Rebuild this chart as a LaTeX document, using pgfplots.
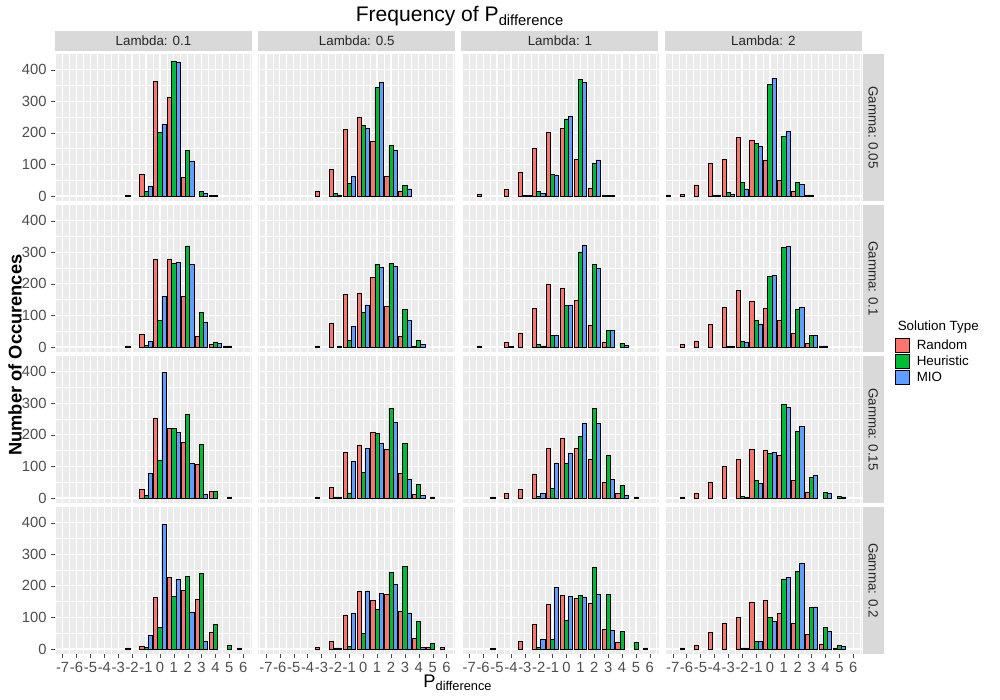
\documentclass[border=0pt]{standalone}
\usepackage{pgfplots}
\pgfplotsset{compat=1.18}
\usepackage{pgfplotstable}
\usepackage{fontspec}
\setmainfont{Liberation Sans}
\definecolor{cR}{HTML}{F8766D}
\definecolor{cG}{HTML}{00BA38}
\definecolor{cB}{HTML}{619CFF}
\definecolor{pbg}{HTML}{EBEBEB}
\definecolor{strip}{HTML}{D9D9D9}
\definecolor{txt}{HTML}{4D4D4D}
\pgfplotstableread{
x r g b
-2 3 nan nan
-1 67 14 30
0 362 202 227
1 312 428 425
2 60 145 111
3 nan 15 8
4 2 2 nan
}\Ta
\pgfplotstableread{
x r g b
-3 16 nan nan
-2 84 8 3
-1 210 40 61
0 249 223 215
1 174 343 360
2 61 159 145
3 16 32 22
}\Tb
\pgfplotstableread{
x r g b
-6 4 nan nan
-4 20 nan nan
-3 75 2 2
-2 151 14 7
-1 201 69 64
0 213 244 252
1 116 370 359
2 24 103 114
3 2 2 2
}\Tc
\pgfplotstableread{
x r g b
-7 3 nan nan
-6 6 nan nan
-5 35 nan nan
-4 103 3 3
-3 117 10 4
-2 186 43 22
-1 176 166 158
0 114 353 373
1 49 188 205
2 16 44 36
3 3 3 nan
}\Td
\pgfplotstableread{
x r g b
-2 3 nan nan
-1 41 5 18
0 277 84 159
1 279 265 268
2 159 320 262
3 34 109 78
4 9 16 12
5 3 3 nan
}\Te
\pgfplotstableread{
x r g b
-3 3 nan nan
-2 75 nan 3
-1 167 21 66
0 170 110 133
1 220 261 251
2 128 264 256
3 33 120 84
4 3 20 9
}\Tf
\pgfplotstableread{
x r g b
-6 3 nan nan
-4 15 2 nan
-3 43 nan nan
-2 123 7 3
-1 200 37 37
0 185 132 133
1 147 301 322
2 68 261 249
3 16 52 52
4 nan 12 4
}\Tg
\pgfplotstableread{
x r g b
-6 9 nan nan
-5 19 nan nan
-4 72 nan nan
-3 126 3 3
-2 179 19 15
-1 143 83 73
0 122 224 227
1 83 316 319
2 42 119 124
3 10 37 37
4 3 3 nan
}\Th
\pgfplotstableread{
x r g b
-1 27 8 77
0 252 119 398
1 220 220 208
2 176 265 109
3 106 169 11
4 20 21 nan
5 nan 3 nan
}\Ti
\pgfplotstableread{
x r g b
-3 3 nan nan
-2 34 3 3
-1 143 16 115
0 167 81 156
1 207 204 172
2 155 284 240
3 78 172 59
4 11 42 8
5 nan 3 nan
}\Tj
\pgfplotstableread{
x r g b
-5 3 nan nan
-4 14 nan nan
-3 26 nan nan
-2 76 6 15
-1 156 30 109
0 189 110 140
1 158 195 236
2 122 284 237
3 48 134 60
4 13 40 8
5 nan 3 nan
}\Tk
\pgfplotstableread{
x r g b
-6 3 nan nan
-5 14 nan nan
-4 48 nan nan
-3 101 nan nan
-2 122 5 3
-1 153 55 47
0 152 141 143
1 134 297 288
2 55 212 228
3 19 66 72
4 nan 17 14
5 nan 5 3
}\Tl
\pgfplotstableread{
x r g b
-2 3 nan nan
-1 8 5 43
0 164 68 396
1 227 167 220
2 185 229 115
3 158 239 23
4 52 77 nan
5 nan 11 nan
6 3 nan nan
}\Tm
\pgfplotstableread{
x r g b
-3 5 nan nan
-2 23 3 3
-1 108 9 112
0 181 49 184
1 154 126 177
2 174 242 204
3 119 262 113
4 32 88 6
5 4 18 nan
6 4 nan nan
}\Tn
\pgfplotstableread{
x r g b
-5 2 nan nan
-3 23 nan nan
-2 78 5 29
-1 140 29 194
0 171 90 167
1 161 169 165
2 143 258 172
3 63 174 59
4 22 55 nan
5 nan 22 nan
6 3 nan nan
}\To
\pgfplotstableread{
x r g b
-6 3 nan nan
-5 10 nan nan
-4 52 nan nan
-3 82 nan nan
-2 100 3 3
-1 149 23 23
0 155 101 88
1 112 222 226
2 82 245 271
3 47 131 133
4 13 67 56
5 3 10 9
}\Tp
\pgfplotsset{fac/.style={
  width=4.925cm, height=3.675cm, scale only axis, anchor=north west,
  ybar, bar width=0.3,
  xmin=-7.55, xmax=6.63, ymin=-16, ymax=450,
  axis background/.style={fill=pbg},
  axis line style={draw=none},
  grid=both,
  major grid style={white, line width=0.9pt},
  minor grid style={white, line width=0.45pt},
  xtick={-7,...,6}, minor xtick={-7.5,-6.5,...,6.5},
  ytick={0,100,200,300,400}, minor ytick={50,150,250,350},
  xticklabels={}, yticklabels={},
  tick style={draw=none},
  tick align=outside, major tick length=2.5pt, minor tick length=0pt,
  tick pos=left,
  ticklabel style={font=\fontsize{10.5}{12}\selectfont, text=txt},
  xticklabel style={inner xsep=0pt},
}}
\pgfplotsset{bot/.style={xticklabels={-7,-6,-5,-4,-3,-2,-1,0,1,2,3,4,5,6}, xtick style={draw=gray!60!black}},
 lft/.style={yticklabels={0,100,200,300,400}, ytick style={draw=gray!60!black}}}
\newcommand{\panel}[4]{%
\begin{axis}[fac,at={(#1,#2)},#4]
\addplot[fill=cR,draw=black,line width=0.5pt,bar shift=-0.3] table[x=x,y=r]{#3};
\addplot[fill=cG,draw=black,line width=0.5pt,bar shift=0] table[x=x,y=g]{#3};
\addplot[fill=cB,draw=black,line width=0.5pt,bar shift=0.3] table[x=x,y=b]{#3};
\end{axis}}
\newcommand{\tstrip}[2]{\fill[strip] ({#1*0.025},{(700-31)*0.025}) rectangle ({(#1+197)*0.025},{(700-51)*0.025});
\node[font=\fontsize{9.5}{11}\selectfont, text=black!85] at ({(#1+98.5)*0.025},{(700-41)*0.025}) {#2};}
\newcommand{\rstrip}[2]{\fill[strip] ({863*0.025},{(700-#1)*0.025}) rectangle ({884*0.025},{(700-#1-147)*0.025});
\node[rotate=-90,font=\fontsize{9.5}{11}\selectfont, text=black!85] at ({873.5*0.025},{(700-#1-73.5)*0.025}) {#2};}
\begin{document}
\begin{tikzpicture}
\useasboundingbox (0,0) rectangle (25,17.5);
\panel{1.375cm}{16.15cm}{\Ta}{lft}
\panel{6.4575cm}{16.15cm}{\Tb}{}
\panel{11.54cm}{16.15cm}{\Tc}{}
\panel{16.625cm}{16.15cm}{\Td}{}
\panel{1.375cm}{12.375cm}{\Te}{lft}
\panel{6.4575cm}{12.375cm}{\Tf}{}
\panel{11.54cm}{12.375cm}{\Tg}{}
\panel{16.625cm}{12.375cm}{\Th}{}
\panel{1.375cm}{8.6cm}{\Ti}{lft}
\panel{6.4575cm}{8.6cm}{\Tj}{}
\panel{11.54cm}{8.6cm}{\Tk}{}
\panel{16.625cm}{8.6cm}{\Tl}{}
\panel{1.375cm}{4.825cm}{\Tm}{lft,bot}
\panel{6.4575cm}{4.825cm}{\Tn}{bot}
\panel{11.54cm}{4.825cm}{\To}{bot}
\panel{16.625cm}{4.825cm}{\Tp}{bot}
\tstrip{55}{Lambda: 0.1}
\tstrip{258.3}{Lambda: 0.5}
\tstrip{461.6}{Lambda: 1}
\tstrip{665}{Lambda: 2}
\rstrip{54}{Gamma: 0.05}
\rstrip{205}{Gamma: 0.1}
\rstrip{356}{Gamma: 0.15}
\rstrip{507}{Gamma: 0.2}
\node[font=\fontsize{15}{17}\selectfont] at ({460*0.025},{(700-16)*0.025}) {Frequency of P\textsubscript{difference}};
\node[font=\fontsize{13}{15}\selectfont] at ({458*0.025},{(700-683)*0.025}) {P\textsubscript{difference}};
\node[rotate=90,font=\bfseries\fontsize{13}{15}\selectfont] at ({15*0.025},{(700-355)*0.025}) {Number of Occurences};
\node[anchor=west,font=\fontsize{9.5}{11}\selectfont] at ({893*0.025},{(700-327)*0.025}) {Solution Type};
\foreach \c/\t [count=\i] in {cR/Random,cG/Heuristic,cB/MIO}{
 \filldraw[fill=\c,draw=black,line width=0.5pt] ({896*0.025},{(700-322-16*\i)*0.025}) rectangle ({910*0.025},{(700-336-16*\i)*0.025});
 \node[anchor=west,font=\fontsize{9.5}{11}\selectfont] at ({912*0.025},{(700-329-16*\i)*0.025}) {\t};
}
\end{tikzpicture}
\end{document}
